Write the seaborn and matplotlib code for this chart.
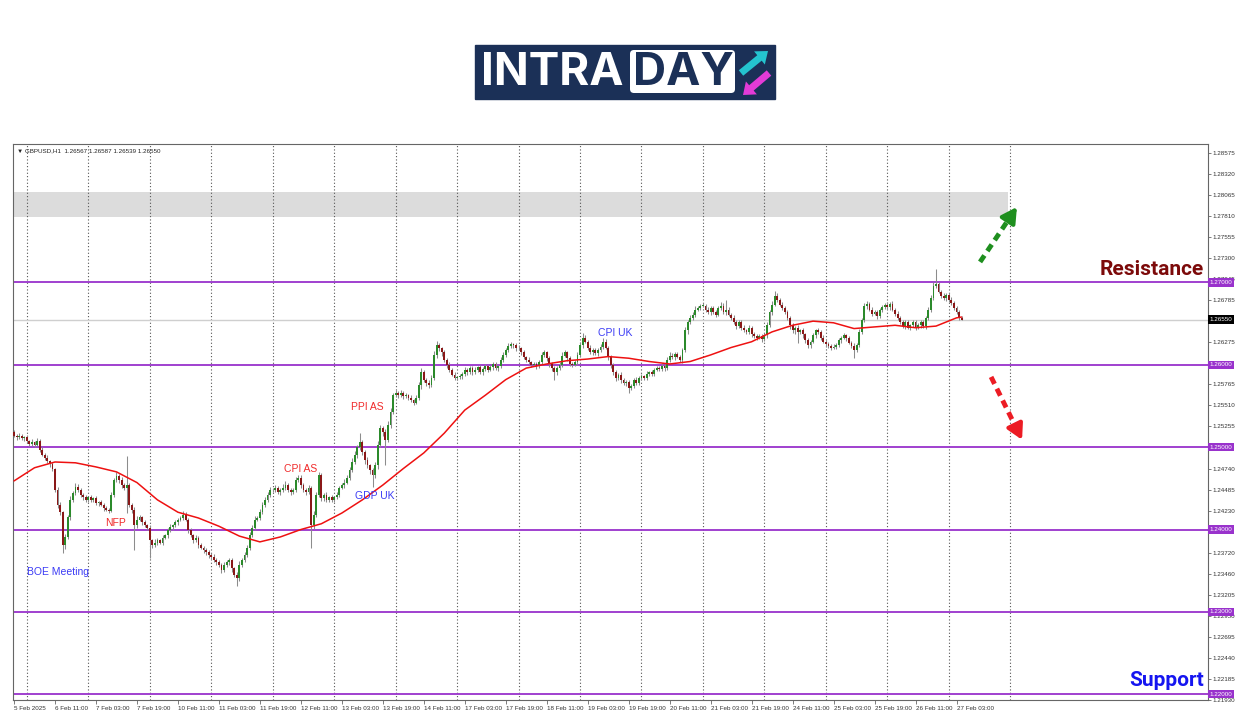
import numpy as np
import pandas as pd
import seaborn as sns
import matplotlib.pyplot as plt
from matplotlib.patches import Rectangle, FancyBboxPatch, FancyArrow
from matplotlib.transforms import blended_transform_factory

# GBPUSD H1 closes in pips above 1.2000, 5 Feb 19:00 -> 27 Feb 05:00
close_pips = [
    514, 512, 514, 511, 512,  # 5 Feb
    507, 504, 506, 503, 508, 497, 491, 487, 483, 479, 473, 448, 430, 421, 381, 391, 415, 436, 444, 452, 448, 442, 439, 436,  # 6 Feb
    439, 436, 438, 432, 433, 430, 426, 424, 423, 442, 460, 465, 460, 454, 451, 454, 430, 424, 405, 412, 415, 409, 405, 402,  # 7 Feb
    387, 381, 384, 387, 384, 390, 393, 399, 403, 405, 409, 412, 414, 418, 412, 399, 393, 387, 390, 381, 378, 375, 373, 369,  # 10 Feb
    367, 363, 360, 357, 351, 357, 360, 363, 353, 345, 341, 357, 363, 369, 378, 393, 402, 412, 414, 421, 430, 436, 442, 448,  # 11 Feb
    448, 450, 445, 448, 451, 454, 448, 445, 448, 460, 463, 454, 448, 445, 450, 405, 418, 442, 466, 438, 442, 436, 439, 436,  # 12 Feb
    439, 442, 451, 454, 457, 463, 472, 482, 491, 500, 506, 494, 485, 478, 472, 466, 478, 503, 523, 518, 509, 527, 543, 563,  # 13 Feb
    566, 563, 566, 562, 563, 560, 557, 554, 560, 575, 591, 582, 578, 575, 584, 612, 624, 620, 615, 606, 600, 594, 588, 584,  # 14 Feb
    585, 586, 589, 594, 591, 596, 591, 594, 597, 591, 595, 598, 594, 597, 601, 596, 598, 606, 612, 618, 623, 625, 624, 621,  # 17 Feb
    620, 615, 609, 606, 603, 600, 601, 598, 603, 612, 615, 608, 601, 596, 591, 596, 600, 611, 615, 608, 601, 600, 603, 612,  # 18 Feb
    624, 633, 628, 621, 615, 618, 614, 618, 622, 628, 621, 609, 600, 591, 584, 588, 582, 578, 579, 572, 574, 582, 578, 584,  # 19 Feb
    586, 584, 589, 591, 589, 594, 596, 595, 599, 596, 606, 611, 609, 613, 610, 606, 618, 642, 652, 657, 661, 667, 669, 672,  # 20 Feb
    672, 667, 664, 669, 664, 661, 669, 672, 664, 667, 661, 657, 652, 647, 652, 645, 642, 640, 645, 637, 635, 633, 635, 631,  # 21 Feb
    636, 648, 664, 673, 684, 679, 673, 669, 664, 657, 648, 642, 645, 640, 642, 637, 630, 624, 628, 636, 642, 640, 633, 628,  # 24 Feb
    625, 623, 621, 622, 624, 630, 633, 636, 632, 627, 623, 618, 624, 640, 654, 671, 674, 667, 662, 664, 659, 667, 670, 673,  # 25 Feb
    670, 674, 667, 662, 657, 652, 647, 652, 645, 648, 652, 645, 648, 652, 647, 657, 667, 681, 696, 698, 689, 684, 681, 685,  # 26 Feb
    679, 675, 669, 664, 657, 655,  # 27 Feb
]
first_open_pips = 518

# wick length above / below the body, pips
up_wick = [
    3, 2, 3, 2, 2,
    3, 2, 4, 2, 3, 2, 3, 2, 3, 2, 3, 2, 4, 3, 2, 4, 3, 5, 3, 4, 3, 3, 2, 3,
    2, 3, 2, 3, 2, 3, 2, 3, 2, 4, 3, 5, 3, 4, 3, 35, 3, 2, 3, 4, 3, 2, 3, 2,
    3, 2, 4, 3, 2, 3, 2, 3, 4, 2, 3, 2, 3, 4, 3, 2, 3, 2, 3, 2, 3, 2, 3, 2,
    2, 3, 2, 3, 2, 4, 3, 2, 3, 2, 3, 5, 3, 4, 3, 4, 3, 5, 3, 4, 3, 4, 3, 4,
    3, 4, 3, 2, 4, 5, 3, 2, 3, 4, 3, 3, 2, 3, 4, 3, 4, 3, 4, 3, 2, 3, 2, 3,
    2, 3, 2, 3, 4, 3, 4, 5, 4, 3, 11, 3, 2, 3, 2, 3, 4, 5, 4, 3, 4, 5, 4, 3,
    3, 2, 3, 2, 3, 2, 3, 2, 3, 4, 5, 3, 2, 3, 4, 5, 5, 3, 2, 3, 2, 3, 2, 3,
    2, 3, 2, 3, 2, 3, 2, 3, 2, 3, 2, 3, 2, 3, 2, 3, 2, 3, 4, 3, 4, 3, 2, 3,
    3, 2, 3, 2, 3, 2, 3, 2, 3, 4, 3, 2, 3, 2, 3, 2, 3, 4, 3, 2, 3, 2, 3, 4,
    4, 6, 3, 2, 3, 2, 3, 2, 3, 4, 3, 2, 3, 2, 3, 2, 3, 2, 3, 2, 3, 2, 3, 2,
    3, 2, 3, 2, 3, 2, 3, 2, 3, 2, 3, 4, 3, 2, 3, 2, 3, 4, 3, 4, 3, 4, 3, 2,
    3, 2, 3, 2, 3, 2, 3, 4, 3, 12, 3, 2, 3, 2, 3, 2, 3, 2, 3, 2, 3, 2, 3, 2,
    3, 4, 3, 4, 6, 3, 2, 3, 2, 3, 2, 3, 2, 3, 2, 3, 2, 3, 2, 3, 2, 3, 2, 3,
    2, 3, 2, 3, 2, 3, 2, 3, 2, 3, 2, 3, 2, 4, 3, 4, 3, 2, 3, 2, 3, 2, 3, 2,
    3, 2, 3, 2, 3, 2, 3, 2, 3, 2, 3, 2, 3, 2, 3, 2, 3, 4, 5, 18, 3, 2, 3, 2,
    2, 3, 2, 3, 2, 2,
]
down_wick = [
    2, 3, 2, 2, 3,
    2, 3, 2, 3, 2, 3, 2, 3, 2, 3, 2, 3, 4, 3, 10, 5, 3, 4, 3, 2, 3, 2, 3, 2,
    3, 2, 3, 2, 3, 2, 3, 2, 3, 2, 3, 2, 4, 3, 3, 31, 3, 4, 30, 3, 2, 3, 2, 3,
    21, 3, 2, 3, 2, 3, 2, 3, 2, 3, 2, 3, 2, 3, 2, 3, 2, 3, 2, 3, 2, 3, 4, 3,
    3, 2, 3, 2, 4, 3, 2, 3, 4, 3, 9, 3, 2, 3, 2, 3, 2, 3, 2, 3, 2, 3, 2, 3,
    2, 3, 2, 3, 2, 3, 2, 3, 2, 3, 2, 3, 2, 3, 2, 27, 4, 3, 2, 3, 3, 2, 3, 2,
    3, 2, 3, 2, 3, 2, 3, 2, 3, 4, 3, 4, 5, 3, 4, 14, 3, 4, 3, 4, 31, 3, 4, 3,
    2, 3, 2, 3, 2, 3, 2, 3, 2, 3, 4, 3, 4, 3, 2, 3, 4, 3, 4, 3, 4, 3, 2, 3,
    3, 2, 3, 2, 3, 2, 3, 2, 3, 2, 3, 2, 3, 2, 3, 2, 3, 2, 3, 2, 3, 2, 3, 4,
    2, 3, 2, 3, 2, 3, 2, 3, 2, 3, 2, 3, 4, 3, 9, 3, 2, 3, 2, 3, 2, 3, 2, 3,
    2, 3, 2, 3, 2, 3, 2, 3, 2, 3, 2, 3, 4, 3, 4, 3, 4, 3, 4, 6, 3, 2, 3, 2,
    2, 3, 2, 3, 2, 3, 2, 3, 2, 3, 2, 3, 2, 3, 2, 3, 4, 3, 4, 3, 2, 3, 2, 3,
    2, 3, 2, 3, 2, 3, 2, 3, 2, 3, 2, 3, 2, 3, 2, 3, 2, 3, 2, 3, 2, 3, 2, 3,
    2, 3, 2, 3, 2, 3, 2, 3, 2, 3, 4, 3, 4, 13, 3, 4, 3, 4, 3, 2, 3, 2, 3, 2,
    3, 2, 3, 2, 3, 2, 3, 2, 3, 2, 3, 10, 3, 2, 3, 2, 3, 2, 3, 2, 3, 2, 3, 2,
    2, 3, 2, 3, 2, 3, 2, 3, 2, 3, 2, 3, 2, 3, 2, 3, 2, 3, 2, 3, 2, 3, 2, 3,
    3, 2, 3, 2, 3, 1,
]

# moving average (red line), sampled every 8 bars
ma_bars = list(range(0, 369, 8)) + [370]
ma_pips = [459, 475, 482, 481, 476, 470, 457, 436, 421, 414, 404, 392, 385, 391, 400, 407,
           420, 436, 454, 474, 493, 517, 545, 563, 582, 596, 601, 605, 607, 610, 608, 604,
           601, 604, 612, 621, 628, 640, 648, 653, 651, 644, 646, 648, 645, 647, 657, 658]

price_ticks = [1.28575, 1.28320, 1.28065, 1.27810, 1.27555, 1.27300, 1.27045, 1.26785, 1.26530,
               1.26275, 1.26020, 1.25765, 1.25510, 1.25255, 1.25000, 1.24740, 1.24485, 1.24230,
               1.23975, 1.23720, 1.23460, 1.23205, 1.22950, 1.22695, 1.22440, 1.22185, 1.21930]
# tick labels that sit under a price box are left blank
hidden_ticks = [1.26530, 1.26020, 1.25000, 1.23975]
level_prices = [1.27, 1.26, 1.25, 1.24, 1.23, 1.22]
last_price = 1.26550
zone_low, zone_high, zone_end_bar = 1.27795, 1.28098, 388

time_label_bars = list(range(0, 369, 16))
time_labels = ['5 Feb 2025', '6 Feb 11:00', '7 Feb 03:00', '7 Feb 19:00', '10 Feb 11:00',
               '11 Feb 03:00', '11 Feb 19:00', '12 Feb 11:00', '13 Feb 03:00', '13 Feb 19:00',
               '14 Feb 11:00', '17 Feb 03:00', '17 Feb 19:00', '18 Feb 11:00', '19 Feb 03:00',
               '19 Feb 19:00', '20 Feb 11:00', '21 Feb 03:00', '21 Feb 19:00', '24 Feb 11:00',
               '25 Feb 03:00', '25 Feb 19:00', '26 Feb 11:00', '27 Feb 03:00']
day_start_bars = [5, 29, 53, 77, 101, 125, 149, 173, 197, 221, 245, 269, 293, 317, 341, 365, 389]

# event labels: text, bar, price, colour
events = [('BOE Meeting', 17.0, 1.23487, '#3b3bf5'),
          ('NFP', 39.6, 1.24081, '#f02a2a'),
          ('CPI AS', 112.1, 1.24737, '#f02a2a'),
          ('PPI AS', 138.0, 1.25489, '#f02a2a'),
          ('GDP UK', 141.0, 1.24409, '#3b3bf5'),
          ('CPI UK', 234.7, 1.26387, '#3b3bf5')]

# scenario arrows: (bar0, price0, bar1, price1)
arrow_up = (377.2, 1.27249, 391.6, 1.27916)
arrow_down = (381.5, 1.25853, 393.6, 1.25089)

assert len(close_pips) == len(up_wick) == len(down_wick) == 371

df = pd.DataFrame({'bar': np.arange(len(close_pips)),
                   'close': 1.2 + np.array(close_pips) / 1e4})
df['open'] = np.r_[1.2 + first_open_pips / 1e4, df['close'].values[:-1]]
df['high'] = df[['open', 'close']].max(axis=1) + np.array(up_wick) / 1e4
df['low'] = df[['open', 'close']].min(axis=1) - np.array(down_wick) / 1e4
df['body_lo'] = df[['open', 'close']].min(axis=1)
df['body_h'] = (df['close'] - df['open']).abs().clip(lower=0.00003)
df['color'] = np.where(df['close'] >= df['open'], '#2b8a2b', '#8a1818')

ma = pd.DataFrame({'bar': ma_bars, 'price': 1.2 + np.array(ma_pips) / 1e4})

sns.set_style('white')
small_font = ['Liberation Sans', 'DejaVu Sans']

fig = plt.figure(figsize=(12.5, 7.16), dpi=100)
ax = fig.add_axes([13 / 1250, 16 / 716, 1195 / 1250, 556 / 716])
ax.set_xlim(-0.4, 466.2)
ax.set_ylim(1.21933, 1.28681)

# resistance zone and grid
ax.fill_between([-0.4, zone_end_bar], zone_low, zone_high, color='#dcdcdc', lw=0, zorder=0)
for b in day_start_bars:
    ax.axvline(b, color='#555555', lw=0.8, ls=(0, (1, 2)), zorder=1)
ax.axhline(last_price, color='#cfcfcf', lw=1, zorder=1)
for p in level_prices:
    ax.axhline(p, color='#9932cc', lw=1.3, zorder=2)

# candles
ax.vlines(df['bar'], df['low'], df['high'], color='#8c8c8c', lw=0.75, zorder=3)
ax.bar(df['bar'], df['body_h'], bottom=df['body_lo'], width=0.72, color=df['color'], lw=0, zorder=4)

sns.lineplot(data=ma, x='bar', y='price', ax=ax, color='#ee1111', lw=1.1, zorder=5)

# axes styling like the terminal
for s in ax.spines.values():
    s.set_color('#666666')
    s.set_linewidth(0.8)
ax.yaxis.tick_right()
ax.set_yticks(price_ticks)
ax.set_yticklabels(['' if v in hidden_ticks else f'{v:.5f}' for v in price_ticks])
ax.set_xticks(time_label_bars)
ax.set_xticklabels(time_labels)
for lbl in ax.get_xticklabels() + ax.get_yticklabels():
    lbl.set_family(small_font)
for lbl in ax.get_xticklabels():
    lbl.set_ha('left')
ax.tick_params(axis='y', right=True, left=False, length=2, width=0.6, pad=1.5,
               labelsize=4.5, labelcolor='#333333', color='#666666')
ax.tick_params(axis='x', bottom=True, length=3, width=0.6, pad=1.5,
               labelsize=4.5, labelcolor='#333333', color='#666666')
ax.set_xlabel('')
ax.set_ylabel('')

trans = blended_transform_factory(ax.transAxes, ax.transData)
for p in level_prices:
    ax.text(1.0015, p, f'{p:.5f}', transform=trans, fontsize=4.5, family=small_font, color='white',
            va='center', ha='left', clip_on=False, zorder=10,
            bbox=dict(boxstyle='square,pad=0.25', fc='#9932cc', ec='none'))
ax.text(1.0015, last_price, f'{last_price:.5f}', transform=trans, fontsize=4.5, family=small_font,
        color='white', va='center', ha='left', clip_on=False, zorder=10,
        bbox=dict(boxstyle='square,pad=0.25', fc='black', ec='none'))

ax.text(0.003, 0.993, '\u25bc GBPUSD,H1  1.26567 1.26587 1.26539 1.26550', transform=ax.transAxes,
        fontsize=4.5, family=small_font, color='#222222', va='top', ha='left')

for txt, b, p, c in events:
    ax.text(b, p, txt, color=c, fontsize=7.5, family='Liberation Sans', ha='center', va='center', zorder=6)

ax.text(0.9967, 1.27152, 'Resistance', transform=trans, color='#7c0a0a', fontsize=15,
        family='Roboto', fontweight='bold', ha='right', va='center', zorder=6)
ax.text(0.9967, 1.22164, 'Support', transform=trans, color='#1515f0', fontsize=15,
        family='Roboto', fontweight='bold', ha='right', va='center', zorder=6)

# dashed scenario arrows with solid heads
for (b0, p0, b1, p1), c in [(arrow_up, '#1f8f1f'), (arrow_down, '#ec1c24')]:
    bm, pm = b0 + 0.8 * (b1 - b0), p0 + 0.8 * (p1 - p0)
    ax.plot([b0, bm], [p0, pm], color=c, lw=3.5, dashes=(1.6, 1.1), solid_capstyle='butt',
            dash_capstyle='butt', zorder=7)
    ax.annotate('', xy=(b1, p1), xytext=(bm, pm), zorder=7,
                arrowprops=dict(arrowstyle='-|>,head_length=0.9,head_width=0.5', color=c,
                                lw=3, shrinkA=0, shrinkB=0))

# INTRADAY logo, drawn in pixel coordinates
lax = fig.add_axes([0, 0, 1, 1])
lax.set_xlim(0, 1250)
lax.set_ylim(716, 0)
lax.axis('off')
navy = '#1b3057'
lax.add_patch(Rectangle((475, 45), 300, 54, color=navy))
lax.text(481, 73, 'INTRA', color='white', fontsize=33, family='Inter', fontweight='bold',
         ha='left', va='center')
lax.add_patch(FancyBboxPatch((630, 50), 105, 43, boxstyle='round,pad=0,rounding_size=4',
                             fc='white', ec='none'))
lax.text(683, 73, 'DAY', color=navy, fontsize=33, family='Inter', fontweight='bold',
         ha='center', va='center')
lax.add_patch(FancyArrow(741, 73, 27, -22, width=7, head_width=17, head_length=11,
                         length_includes_head=True, color='#24c3cf', lw=0))
lax.add_patch(FancyArrow(769, 73, -26, 22, width=7, head_width=17, head_length=11,
                         length_includes_head=True, color='#e33bd7', lw=0))

fig.savefig('out.png', dpi=100, facecolor='white')
